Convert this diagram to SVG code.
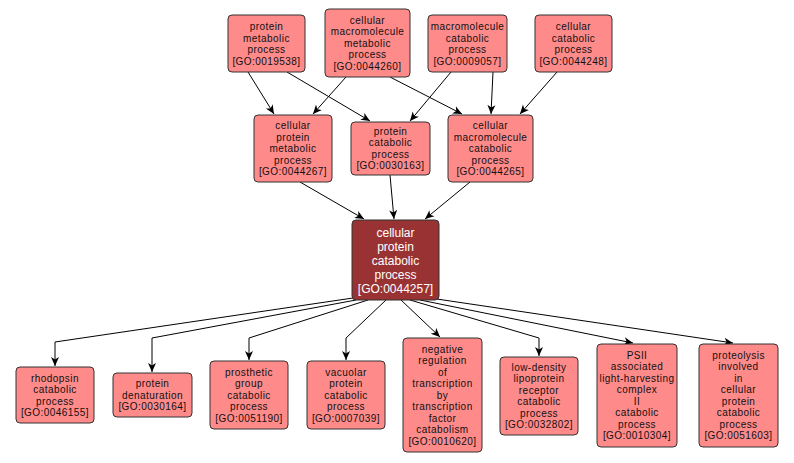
<svg xmlns="http://www.w3.org/2000/svg" width="794" height="463" viewBox="0 0 794 463">
<defs>
<marker id="arr" markerWidth="10" markerHeight="10" refX="9" refY="5" orient="auto" markerUnits="userSpaceOnUse">
<path d="M0,1 L9,5 L0,9 L2.5,5 z" fill="#000"/>
</marker>
<style>
.n rect{fill:#ff8a8a;stroke:#333;stroke-width:1}
.n text{font-family:"Liberation Sans",Arial,sans-serif;font-size:10px;letter-spacing:0.45px;fill:#111;text-anchor:middle}
.c rect{fill:#993333;stroke:#333;stroke-width:1}
.c text{font-family:"Liberation Sans",Arial,sans-serif;font-size:12px;fill:#fff;text-anchor:middle}
.e path{fill:none;stroke:#000;stroke-width:1;marker-end:url(#arr)}
</style>
</defs>
<rect width="794" height="463" fill="#fff"/>
<g id="edges" class="e">
<path d="M248,72 L274,114"/>
<path d="M287,72 L370,121"/>
<path d="M346,77 L313,114"/>
<path d="M390,77 L462,114"/>
<path d="M451,72 L410,121"/>
<path d="M493,72 L491,114"/>
<path d="M557,72 L520,114"/>
<path d="M300,182 L364,219"/>
<path d="M390,175 L394,219"/>
<path d="M470,182 L425,219"/>
<path d="M353,298 L55,342 L55,366"/>
<path d="M356,300 L152,338 L152,372"/>
<path d="M368,300 L249,338 L249,360"/>
<path d="M386,300 L346,338 L346,360"/>
<path d="M401,300 L440,337"/>
<path d="M410,300 L539,338 L539,356"/>
<path d="M420,300 L633,343"/>
<path d="M430,298 L733,343"/>
</g>
<g id="GO0019538" class="n"><rect x="228" y="15" width="77" height="57" rx="4"/>
<text x="266.5" y="30">protein</text><text x="266.5" y="41.5">metabolic</text><text x="266.5" y="53">process</text><text x="266.5" y="64.5">[GO:0019538]</text></g>
<g id="GO0044260" class="n"><rect x="325" y="9" width="85" height="68" rx="4"/>
<text x="367.5" y="23.5">cellular</text><text x="367.5" y="35">macromolecule</text><text x="367.5" y="46.5">metabolic</text><text x="367.5" y="58">process</text><text x="367.5" y="69.5">[GO:0044260]</text></g>
<g id="GO0009057" class="n"><rect x="428" y="15" width="79" height="57" rx="4"/>
<text x="467.5" y="30">macromolecule</text><text x="467.5" y="41.5">catabolic</text><text x="467.5" y="53">process</text><text x="467.5" y="64.5">[GO:0009057]</text></g>
<g id="GO0044248" class="n"><rect x="535" y="15" width="77" height="57" rx="4"/>
<text x="573.5" y="30">cellular</text><text x="573.5" y="41.5">catabolic</text><text x="573.5" y="53">process</text><text x="573.5" y="64.5">[GO:0044248]</text></g>
<g id="GO0044267" class="n"><rect x="254" y="115" width="78" height="67" rx="4"/>
<text x="293" y="129">cellular</text><text x="293" y="140.5">protein</text><text x="293" y="152">metabolic</text><text x="293" y="163.5">process</text><text x="293" y="175">[GO:0044267]</text></g>
<g id="GO0030163" class="n"><rect x="351" y="122" width="79" height="53" rx="4"/>
<text x="390.5" y="134.5">protein</text><text x="390.5" y="146">catabolic</text><text x="390.5" y="157.5">process</text><text x="390.5" y="169">[GO:0030163]</text></g>
<g id="GO0044265" class="n"><rect x="448" y="115" width="85" height="67" rx="4"/>
<text x="490.5" y="129">cellular</text><text x="490.5" y="140.5">macromolecule</text><text x="490.5" y="152">catabolic</text><text x="490.5" y="163.5">process</text><text x="490.5" y="175">[GO:0044265]</text></g>
<g id="GO0044257" class="c"><rect x="352" y="220" width="87" height="80" rx="4"/>
<text x="395.5" y="236.5">cellular</text><text x="395.5" y="250.7">protein</text><text x="395.5" y="264.9">catabolic</text><text x="395.5" y="279.1">process</text><text x="395.5" y="293.3">[GO:0044257]</text></g>
<g id="GO0046155" class="n"><rect x="16" y="367" width="78" height="56" rx="4"/>
<text x="55" y="381.5">rhodopsin</text><text x="55" y="393">catabolic</text><text x="55" y="404.5">process</text><text x="55" y="416">[GO:0046155]</text></g>
<g id="GO0030164" class="n"><rect x="113" y="373" width="79" height="44" rx="4"/>
<text x="152.5" y="387">protein</text><text x="152.5" y="398.5">denaturation</text><text x="152.5" y="410">[GO:0030164]</text></g>
<g id="GO0051190" class="n"><rect x="210" y="361" width="78" height="68" rx="4"/>
<text x="249" y="375.5">prosthetic</text><text x="249" y="387">group</text><text x="249" y="398.5">catabolic</text><text x="249" y="410">process</text><text x="249" y="421.5">[GO:0051190]</text></g>
<g id="GO0007039" class="n"><rect x="307" y="361" width="78" height="68" rx="4"/>
<text x="346" y="375.5">vacuolar</text><text x="346" y="387">protein</text><text x="346" y="398.5">catabolic</text><text x="346" y="410">process</text><text x="346" y="421.5">[GO:0007039]</text></g>
<g id="GO0010620" class="n"><rect x="403" y="338" width="79" height="114" rx="4"/>
<text x="442.5" y="352.5">negative</text><text x="442.5" y="364">regulation</text><text x="442.5" y="375.5">of</text><text x="442.5" y="387">transcription</text><text x="442.5" y="398.5">by</text><text x="442.5" y="410">transcription</text><text x="442.5" y="421.5">factor</text><text x="442.5" y="433">catabolism</text><text x="442.5" y="444.5">[GO:0010620]</text></g>
<g id="GO0032802" class="n"><rect x="500" y="357" width="78" height="78" rx="4"/>
<text x="539" y="370.5">low-density</text><text x="539" y="382">lipoprotein</text><text x="539" y="393.5">receptor</text><text x="539" y="405">catabolic</text><text x="539" y="416.5">process</text><text x="539" y="428">[GO:0032802]</text></g>
<g id="GO0010304" class="n"><rect x="597" y="344" width="80" height="103" rx="4"/>
<text x="637" y="358.5">PSII</text><text x="637" y="370">associated</text><text x="637" y="381.5">light-harvesting</text><text x="637" y="393">complex</text><text x="637" y="404.5">II</text><text x="637" y="416">catabolic</text><text x="637" y="427.5">process</text><text x="637" y="439">[GO:0010304]</text></g>
<g id="GO0051603" class="n"><rect x="699" y="344" width="79" height="103" rx="4"/>
<text x="738.5" y="358.5">proteolysis</text><text x="738.5" y="370">involved</text><text x="738.5" y="381.5">in</text><text x="738.5" y="393">cellular</text><text x="738.5" y="404.5">protein</text><text x="738.5" y="416">catabolic</text><text x="738.5" y="427.5">process</text><text x="738.5" y="439">[GO:0051603]</text></g>
</svg>
